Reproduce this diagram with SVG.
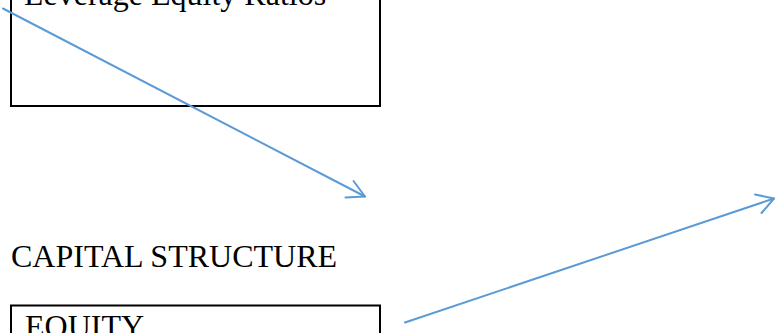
<svg xmlns="http://www.w3.org/2000/svg" width="775" height="333" viewBox="0 0 775 333">
<style>
.box{fill:#fff;stroke:#000;stroke-width:2}
.t{font-family:"Liberation Serif","Times New Roman",serif;font-size:32px;fill:#000}
.c{fill:none;stroke:#5B9BD5;stroke-width:2;stroke-linecap:round;stroke-linejoin:round}
</style>
<rect width="775" height="333" fill="#fff"/>
<g id="leverage">
<rect class="box" x="11" y="-40" width="369" height="146"/>
<text class="t" x="24" y="5">Leverage Equity Ratios</text>
</g>
<g id="capital">
<text class="t" x="11" y="267">CAPITAL STRUCTURE</text>
</g>
<g id="equity">
<rect class="box" x="11" y="305.5" width="369" height="60"/>
<text class="t" x="25" y="336.5">EQUITY</text>
</g>
<g id="connectors">
<path class="c" d="M3,8.5 L365,196.5"/>
<path class="c" d="M353.5,181 L365,196.5 L345.5,197.5"/>
<path class="c" d="M405,322.5 L774,198.5"/>
<path class="c" d="M755,194.5 L774,198.5 L761.5,213"/>
</g>
</svg>
